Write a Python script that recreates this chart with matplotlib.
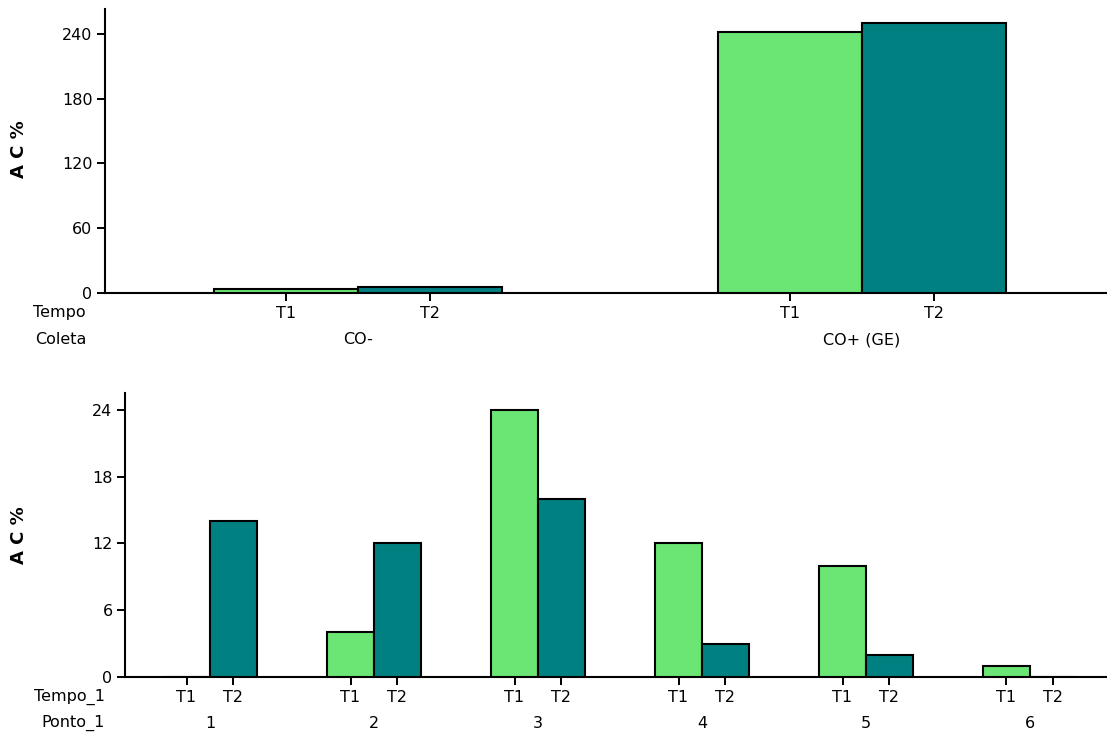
import matplotlib
matplotlib.use("Agg")
import matplotlib.pyplot as plt
import numpy as np

plt.rcParams['font.family'] = ['DejaVu Sans']

# ---- data ----
top_groups = ["CO-", "CO+ (GE)"]
top_t1 = [4, 242]
top_t2 = [6, 250]

bot_groups = ["1", "2", "3", "4", "5", "6"]
bot_t1 = [0, 4, 24, 12, 10, 1]
bot_t2 = [14, 12, 16, 3, 2, 0]

time_labels = ["T1", "T2"]
top_yticks = [0, 60, 120, 180, 240]
bot_yticks = [0, 6, 12, 18, 24]

C1 = "#6BE675"
C2 = "#008080"
FS = 11.5
W, H = 1107, 733

fig = plt.figure(figsize=(W / 100, H / 100), dpi=100)


def px_ax(left, right, top, bottom):
    return fig.add_axes([left / W, 1 - bottom / H, (right - left) / W, (bottom - top) / H])


def style(ax, yticks, ylim):
    for s in ["top", "right"]:
        ax.spines[s].set_visible(False)
    for s in ["left", "bottom"]:
        ax.spines[s].set_linewidth(1.5)
        ax.spines[s].set_color("black")
    ax.set_ylim(*ylim)
    ax.set_yticks(yticks)
    ax.tick_params(axis="both", direction="out", length=6, width=1.4, labelsize=FS, pad=3)


def draw(ax, groups, t1, t2, width):
    x = np.arange(len(groups))
    ax.bar(x - width / 2, t1, width, color=C1, edgecolor="black", linewidth=1.5, zorder=3)
    ax.bar(x + width / 2, t2, width, color=C2, edgecolor="black", linewidth=1.5, zorder=3)
    pos = np.concatenate([x - width / 2, x + width / 2])
    labs = [time_labels[0]] * len(x) + [time_labels[1]] * len(x)
    order = np.argsort(pos)
    ax.set_xticks(pos[order])
    ax.set_xticklabels([labs[i] for i in order])
    for xi, g in zip(x, groups):
        ax.annotate(g, xy=(xi, 0), xycoords=("data", "axes fraction"),
                    xytext=(0, -33.5), textcoords="offset points",
                    ha="center", va="center", fontsize=FS)
    return ax


width = 2 / 7

# top chart
ax1 = px_ax(105, W, 9, 293)
draw(ax1, top_groups, top_t1, top_t2, width)
ax1.set_xlim(-0.503, 1.4865)
style(ax1, top_yticks, (0, 263))
fig.text(19 / W, 1 - 149 / H, "A C %", rotation=90, ha="center", va="center",
         fontsize=13, fontweight="bold")
fig.text(86 / W, 1 - 313 / H, "Tempo", ha="right", va="center", fontsize=FS)
fig.text(86 / W, 1 - 339 / H, "Coleta", ha="right", va="center", fontsize=FS)

# bottom chart
ax2 = px_ax(125, W, 393, 677)
draw(ax2, bot_groups, bot_t1, bot_t2, width)
ax2.set_xlim(-0.518, 5.47)
style(ax2, bot_yticks, (0, 25.5))
fig.text(19 / W, 1 - 535 / H, "A C %", rotation=90, ha="center", va="center",
         fontsize=13, fontweight="bold")
fig.text(105 / W, 1 - 697 / H, "Tempo_1", ha="right", va="center", fontsize=FS)
fig.text(105 / W, 1 - 723 / H, "Ponto_1", ha="right", va="center", fontsize=FS)

fig.savefig("out.png", dpi=100)
